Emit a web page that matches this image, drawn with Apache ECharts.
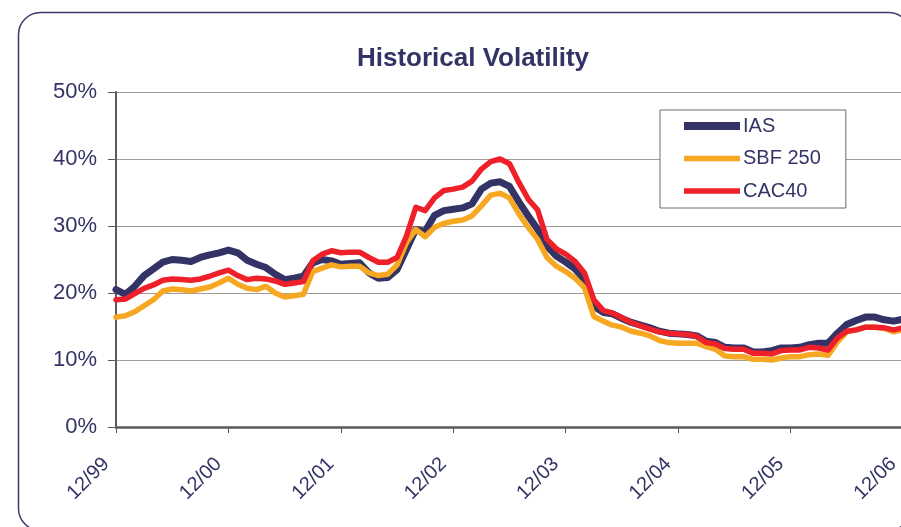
<!DOCTYPE html>
<html>
<head>
<meta charset="utf-8">
<script src="https://cdn.jsdelivr.net/npm/echarts@6/dist/echarts.min.js"></script>
<style>
html,body{margin:0;padding:0;background:#fff;}
#chart{width:901px;height:527px;}
</style>
</head>
<body>
<div id="chart"></div>
<script>
var months = [
'12/99','01/00','02/00','03/00','04/00','05/00','06/00','07/00','08/00','09/00','10/00','11/00',
'12/00','01/01','02/01','03/01','04/01','05/01','06/01','07/01','08/01','09/01','10/01','11/01',
'12/01','01/02','02/02','03/02','04/02','05/02','06/02','07/02','08/02','09/02','10/02','11/02',
'12/02','01/03','02/03','03/03','04/03','05/03','06/03','07/03','08/03','09/03','10/03','11/03',
'12/03','01/04','02/04','03/04','04/04','05/04','06/04','07/04','08/04','09/04','10/04','11/04',
'12/04','01/05','02/05','03/05','04/05','05/05','06/05','07/05','08/05','09/05','10/05','11/05',
'12/05','01/06','02/06','03/06','04/06','05/06','06/06','07/06','08/06','09/06','10/06','11/06',
'12/06'];

var ias = [
20.5,19.8,21.0,22.6,23.6,24.6,25.0,24.9,24.7,25.3,25.7,26.0,
26.4,26.0,24.9,24.3,23.8,22.8,22.0,22.2,22.5,24.5,25.0,24.8,
24.3,24.4,24.5,23.0,22.2,22.3,23.5,26.5,29.5,29.2,31.6,32.3,
32.5,32.7,33.3,35.5,36.4,36.6,35.9,33.6,31.5,29.5,27.0,25.5,
24.6,23.6,22.0,18.0,17.1,16.9,16.2,15.6,15.2,14.8,14.3,14.0,
13.9,13.8,13.6,12.8,12.6,11.9,11.8,11.8,11.2,11.2,11.4,11.8,
11.8,11.9,12.3,12.5,12.5,14.0,15.3,15.9,16.4,16.4,16.0,15.8,
16.1];

var sbf250 = [
16.4,16.6,17.2,18.1,19.0,20.3,20.6,20.5,20.3,20.6,20.9,21.5,
22.2,21.3,20.7,20.5,21.0,20.0,19.4,19.6,19.8,23.2,23.7,24.2,
23.9,24.0,24.0,23.0,22.6,22.8,24.2,27.5,29.5,28.4,29.8,30.4,
30.7,30.9,31.5,33.0,34.6,34.9,34.2,31.8,29.8,28.0,25.3,24.0,
23.2,22.2,20.8,16.5,15.8,15.2,14.9,14.3,14.0,13.6,12.9,12.6,
12.5,12.5,12.5,12.0,11.6,10.6,10.5,10.5,10.1,10.1,10.0,10.3,
10.5,10.5,10.8,10.9,10.7,12.7,14.2,14.5,14.9,14.9,14.7,14.2,
14.5];

var cac40 = [
19.0,19.1,19.9,20.7,21.2,21.9,22.1,22.0,21.9,22.1,22.5,23.0,
23.4,22.6,22.0,22.2,22.1,21.8,21.3,21.5,21.7,24.8,25.8,26.3,
26.0,26.1,26.1,25.3,24.6,24.6,25.3,28.5,32.8,32.3,34.2,35.3,
35.5,35.8,36.7,38.5,39.6,40.0,39.3,36.5,34.0,32.4,28.0,26.6,
25.8,24.7,23.0,19.0,17.4,17.0,16.3,15.6,15.1,14.6,14.2,14.0,
13.9,13.8,13.5,12.6,12.4,11.7,11.6,11.6,11.0,11.0,10.9,11.4,
11.5,11.5,11.9,11.8,11.5,13.3,14.3,14.5,14.9,14.9,14.8,14.5,
14.8];

var seriesNames = ['IAS', 'SBF 250', 'CAC40'];
var yTicks = [0, 10, 20, 30, 40, 50];

var NAVY = '#333366';
var ORANGE = '#f7a823';
var RED = '#ee2029';
var FONT = '"Liberation Sans", Arial, sans-serif';

var chart = echarts.init(document.getElementById('chart'), null, {renderer: 'canvas'});
chart.setOption({
  backgroundColor: '#ffffff',
  animation: false,
  graphic: [{
    type: 'rect', z: -10, silent: true,
    shape: {x: 18.5, y: 12.5, width: 892, height: 518, r: 22},
    style: {fill: '#ffffff', stroke: '#3a3a6e', lineWidth: 1.5}
  }],
  title: {
    text: 'Historical Volatility',
    left: 468, top: 41, textAlign: 'center',
    textStyle: {fontFamily: FONT, fontSize: 26, fontWeight: 'bold', color: NAVY}
  },
  legend: {
    data: [
      {name: seriesNames[0], itemStyle: {opacity: 0}, lineStyle: {color: NAVY, width: 8, cap: 'butt'}},
      {name: seriesNames[1], itemStyle: {opacity: 0}, lineStyle: {color: ORANGE, width: 5.5, cap: 'butt'}},
      {name: seriesNames[2], itemStyle: {opacity: 0}, lineStyle: {color: RED, width: 5.5, cap: 'butt'}}
    ],
    orient: 'vertical',
    left: 660, top: 110,
    padding: [6, 25, 7, 20],
    itemWidth: 56, itemHeight: 14, itemGap: 12.5,
    borderColor: '#6e6a6a', borderWidth: 1, borderRadius: 0,
    backgroundColor: '#ffffff',
    textStyle: {fontFamily: FONT, fontSize: 20, color: NAVY, lineHeight: 20, padding: [0, 0, 0, -2]}
  },
  grid: {left: 116, top: 92, right: -2, bottom: 100, containLabel: false, outerBoundsMode: 'none'},
  xAxis: {
    type: 'category',
    data: months,
    boundaryGap: false,
    axisLine: {lineStyle: {color: '#5f5858', width: 2.5}},
    axisTick: {show: true, length: 6, interval: function (i) { return i % 12 === 0; }, lineStyle: {color: '#5f5858', width: 1}},
    axisLabel: {
      interval: function (i) { return i % 12 === 0; },
      rotate: 45, margin: 24, padding: [0, 14, 0, 0],
      fontFamily: FONT, fontSize: 20, color: NAVY,
      hideOverlap: false
    },
    splitLine: {show: false}
  },
  yAxis: {
    type: 'value', min: 0, max: 50, interval: 10,
    axisLine: {show: true, lineStyle: {color: '#5f5858', width: 2}},
    axisTick: {show: true, length: 8, lineStyle: {color: '#5f5858', width: 1}},
    axisLabel: {
      margin: 19, fontFamily: FONT, fontSize: 22, color: NAVY,
      formatter: function (v) { return yTicks.indexOf(v) >= 0 ? v + '%' : ''; }
    },
    splitLine: {show: true, lineStyle: {color: '#a39a96', width: 1}}
  },
  series: [
    {name: seriesNames[0], type: 'line', data: ias, showSymbol: false, symbol: 'none',
     lineStyle: {color: NAVY, width: 7, cap: 'round', join: 'round'}, itemStyle: {color: NAVY}, z: 2},
    {name: seriesNames[1], type: 'line', data: sbf250, showSymbol: false, symbol: 'none',
     lineStyle: {color: ORANGE, width: 5.5, cap: 'round', join: 'round'}, itemStyle: {color: ORANGE}, z: 3},
    {name: seriesNames[2], type: 'line', data: cac40, showSymbol: false, symbol: 'none',
     lineStyle: {color: RED, width: 5.5, cap: 'round', join: 'round'}, itemStyle: {color: RED}, z: 4}
  ]
});
</script>
</body>
</html>
